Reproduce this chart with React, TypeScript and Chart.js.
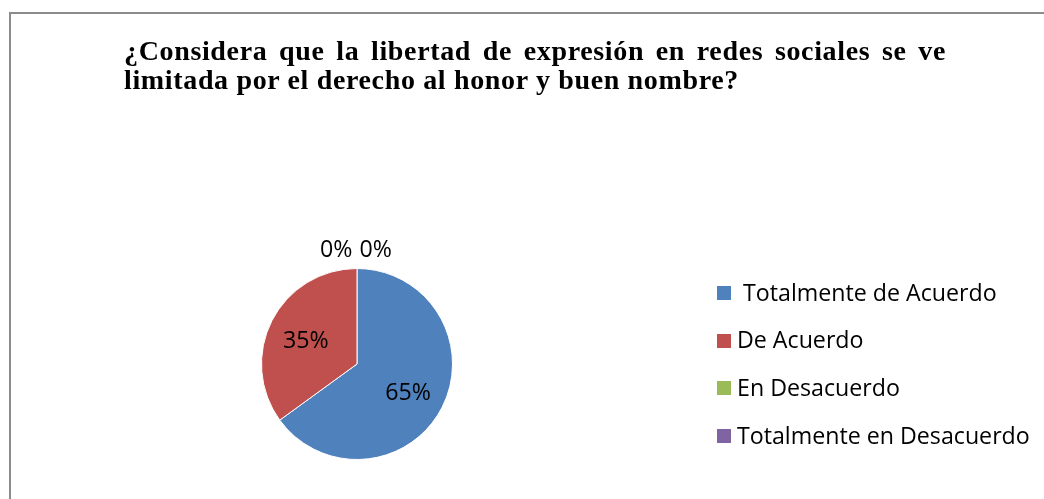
import React, { useEffect, useRef } from "react";
import { Chart, registerables } from "chart.js";

Chart.register(...registerables);

const titleLine1 = "¿Considera que la libertad de expresión en redes sociales se ve";
const titleLine2 = "limitada por el derecho al honor y buen nombre?";
const categories = [" Totalmente de Acuerdo", "De Acuerdo", "En Desacuerdo", "Totalmente en Desacuerdo"];
const values = [65, 35, 0, 0];
const percentLabels = ["65%", "35%", "0%", "0%"];
const colors = ["#4F81BD", "#C0504D", "#9BBB59", "#8064A2"];

const LABEL_FONT = '23.2px "Open Sans", "Noto Sans", sans-serif';

const sliceLabelPlugin = {
  id: "sliceLabels",
  afterDatasetsDraw(chart: any) {
    const ctx = chart.ctx;
    const meta = chart.getDatasetMeta(0);
    ctx.save();
    ctx.font = LABEL_FONT;
    ctx.fillStyle = "#000";
    ctx.textAlign = "center";
    ctx.textBaseline = "middle";
    const zeros: { text: string; arc: any }[] = [];
    meta.data.forEach((el: any, i: number) => {
      const p = el.getProps(["x", "y", "startAngle", "endAngle", "outerRadius"], true);
      const v = chart.data.datasets[0].data[i];
      if (v > 0) {
        const mid = (p.startAngle + p.endAngle) / 2;
        const r = p.outerRadius * 0.6;
        ctx.fillText(percentLabels[i], p.x + Math.cos(mid) * r, p.y + Math.sin(mid) * r + 3);
      } else {
        zeros.push({ text: percentLabels[i], arc: p });
      }
    });
    if (zeros.length) {
      const gap = 7;
      const widths = zeros.map((z) => ctx.measureText(z.text).width);
      const total = widths.reduce((a, b) => a + b, 0) + gap * (zeros.length - 1);
      const p0 = zeros[0].arc;
      let x = p0.x - total / 2 - 1;
      const y = p0.y - p0.outerRadius - 18;
      zeros.forEach((z, k) => {
        ctx.fillText(z.text, x + widths[k] / 2, y);
        x += widths[k] + gap;
      });
    }
    ctx.restore();
  },
};

const legendPlugin = {
  id: "customLegend",
  afterDraw(chart: any) {
    const ctx = chart.ctx;
    const left = 717;
    const top = 293;
    const rowGap = 47.7;
    const box = 14;
    ctx.save();
    ctx.font = LABEL_FONT;
    ctx.textAlign = "left";
    ctx.textBaseline = "middle";
    chart.data.labels.forEach((lab: string, i: number) => {
      const cy = top + i * rowGap;
      ctx.fillStyle = chart.data.datasets[0].backgroundColor[i];
      ctx.fillRect(left, Math.round(cy - box / 2), box, box);
      ctx.fillStyle = "#000";
      ctx.fillText(lab, left + box + 6, cy + 1);
    });
    ctx.restore();
  },
};

export default function App() {
  const ref = useRef<HTMLCanvasElement>(null);
  useEffect(() => {
    if (!ref.current) return;
    const chart = new Chart(ref.current, {
      type: "pie",
      data: {
        labels: categories,
        datasets: [
          {
            data: values,
            backgroundColor: colors,
            borderColor: "#ffffff",
            borderWidth: 1,
          },
        ],
      },
      options: {
        animation: false,
        responsive: false,
        layout: { padding: { left: 261, right: 591, top: 268, bottom: 39 } },
        plugins: {
          legend: { display: false },
          tooltip: { enabled: false },
          title: { display: false },
        },
      },
      plugins: [sliceLabelPlugin, legendPlugin],
    });
    return () => chart.destroy();
  }, []);

  const titleStyle: React.CSSProperties = {
    position: "absolute",
    left: 124,
    top: 36,
    width: 822,
    fontFamily: '"Liberation Serif", "Times New Roman", serif',
    fontWeight: "bold",
    fontSize: 28,
    letterSpacing: "0.65px",
    lineHeight: "29px",
    color: "#000",
  };

  return (
    <div style={{ position: "absolute", left: 0, top: 0, width: 1044, height: 499, background: "#fff", overflow: "hidden" }}>
      <div
        style={{
          position: "absolute",
          left: 9,
          top: 12,
          width: 1100,
          height: 600,
          borderLeft: "2px solid #8c8c8c",
          borderTop: "2px solid #8c8c8c",
        }}
      />
      <canvas ref={ref} width={1044} height={499} style={{ position: "absolute", left: 0, top: 0 }} />
      <div style={titleStyle}>
        <div style={{ textAlign: "justify", textAlignLast: "justify", whiteSpace: "nowrap" as any }}>{titleLine1}</div>
        <div style={{ textAlign: "left" }}>{titleLine2}</div>
      </div>
    </div>
  );
}
